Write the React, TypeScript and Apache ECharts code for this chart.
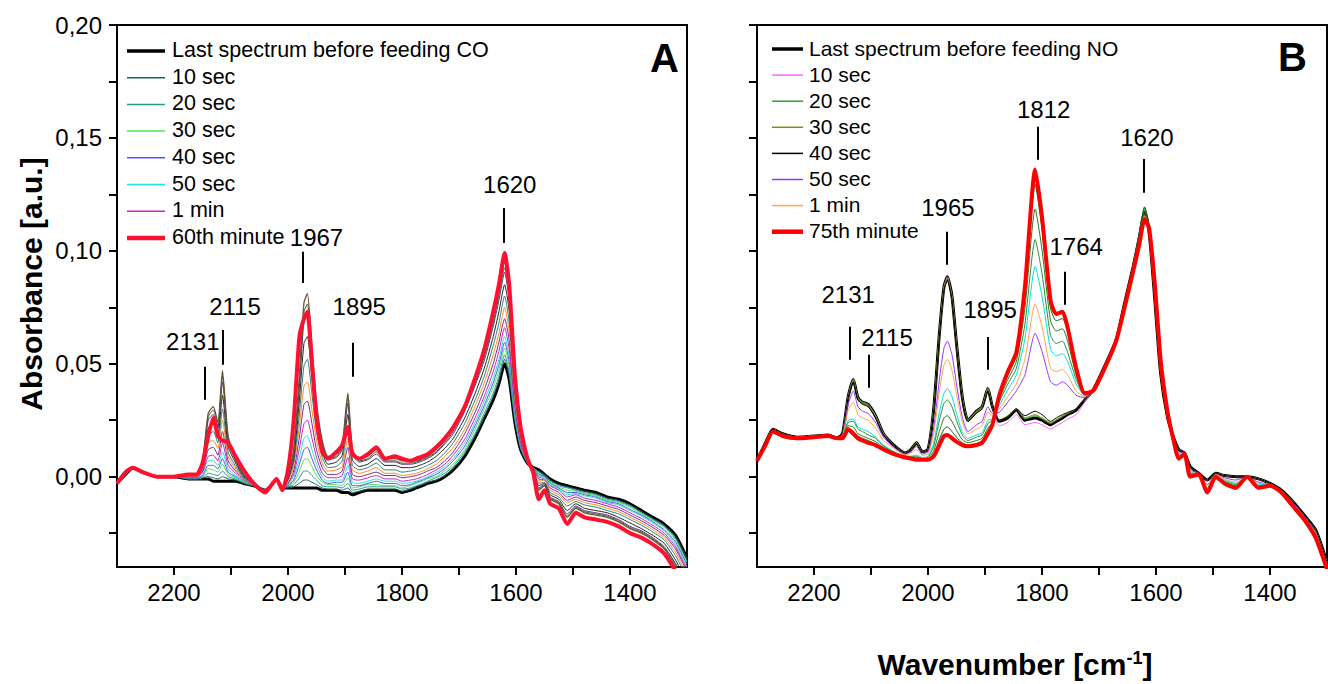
import React, { useEffect, useRef } from "react";
import * as echarts from "echarts";

// ---------- shared x grid (wavenumber, cm-1) ----------
const wavenumbers = [
  2300, 2285, 2272, 2255, 2230, 2200, 2175, 2160, 2150, 2140,
  2131, 2123, 2115, 2105, 2092, 2078, 2060, 2040, 2030, 2020,
  2010, 2000, 1990, 1980, 1972, 1966, 1958, 1950, 1940, 1930,
  1915, 1905, 1895, 1887, 1875, 1860, 1845, 1830, 1812, 1800,
  1785, 1775, 1764, 1755, 1740, 1725, 1710, 1690, 1670, 1655,
  1640, 1630, 1620, 1612, 1602, 1592, 1580, 1570, 1560, 1550,
  1540, 1525, 1510, 1495, 1480, 1460, 1440, 1420, 1400, 1380,
  1360, 1340, 1320, 1300,
];

// ---------- axis ticks ----------
const xTickValues = [1400, 1500, 1600, 1700, 1800, 1900, 2000, 2100, 2200];
const xLabelValues = [2200, 2000, 1800, 1600, 1400];
const yTickValues = [-0.025, 0, 0.025, 0.05, 0.075, 0.1, 0.125, 0.15, 0.175, 0.2];
const yLabelValues = [0, 0.05, 0.1, 0.15, 0.2];

// ---------- Panel A (CO feeding) ----------
const aLast = [
  -0.003, 0.001, 0.004, 0.002, 0, 0, -0.001, -0.001, -0.001, -0.001,
  -0.002, -0.002, -0.002, -0.002, -0.002, -0.003, -0.004, -0.006, -0.004, -0.001,
  -0.005, -0.005, -0.005, -0.005, -0.005, -0.005, -0.005, -0.005, -0.006, -0.006,
  -0.006, -0.007, -0.007, -0.008, -0.007, -0.006, -0.006, -0.006, -0.006, -0.007,
  -0.006, -0.005, -0.004, -0.003, -0.002, 0, 0.003, 0.009, 0.018, 0.026,
  0.034, 0.041, 0.05, 0.043, 0.024, 0.012, 0.006, 0.004, 0.003, 0.001,
  -0.001, -0.003, -0.004, -0.005, -0.006, -0.007, -0.009, -0.01, -0.012, -0.015,
  -0.018, -0.021, -0.026, -0.036,
];
const a10s = [
  -0.003, 0.001, 0.004, 0.002, 0, 0, -0.001, -0.001, -0.0005, 0,
  -0.0005, -0.001, 0, -0.001, -0.0015, -0.003, -0.004, -0.006, -0.004, -0.001,
  -0.005, -0.005, -0.0045, -0.003, -0.0015, -0.0015, -0.0025, -0.0035, -0.005, -0.0055,
  -0.0055, -0.006, -0.005, -0.007, -0.0065, -0.0055, -0.0055, -0.0055, -0.0055, -0.0065,
  -0.0055, -0.0045, -0.0035, -0.0025, -0.0015, 0.0005, 0.0035, 0.01, 0.019, 0.027,
  0.0355, 0.0425, 0.052, 0.0445, 0.025, 0.0125, 0.006, 0.004, 0.0025, 0.001,
  -0.0015, -0.0035, -0.0045, -0.0055, -0.0065, -0.0075, -0.0095, -0.0105, -0.0125, -0.0155,
  -0.0185, -0.0215, -0.0265, -0.0365,
];
const a20s = [
  -0.003, 0.001, 0.004, 0.002, 0, 0, -0.001, -0.001, -0.0005, 0.0015,
  0.001, 0.0005, 0.0025, 0, -0.001, -0.0025, -0.004, -0.006, -0.004, -0.001,
  -0.005, -0.0045, -0.0035, -0.0005, 0.0025, 0.0025, 0.0005, -0.0015, -0.004, -0.0045,
  -0.0045, -0.005, -0.003, -0.006, -0.0055, -0.0045, -0.0045, -0.0045, -0.0045, -0.0055,
  -0.005, -0.004, -0.003, -0.002, -0.0005, 0.0015, 0.0045, 0.011, 0.02, 0.0285,
  0.037, 0.0445, 0.054, 0.0465, 0.0255, 0.013, 0.006, 0.004, 0.002, 0.0005,
  -0.002, -0.004, -0.005, -0.006, -0.007, -0.008, -0.01, -0.011, -0.013, -0.016,
  -0.019, -0.022, -0.0275, -0.0375,
];
const a30s = [
  -0.003, 0.001, 0.004, 0.002, 0, 0, -0.0005, -0.0005, 0, 0.0035,
  0.003, 0.002, 0.0055, 0.001, -0.0005, -0.0025, -0.004, -0.006, -0.004, -0.001,
  -0.005, -0.004, -0.0025, 0.0025, 0.0075, 0.008, 0.0045, 0.0005, -0.0025, -0.0035,
  -0.0035, -0.004, -0.0005, -0.005, -0.0045, -0.0035, -0.0035, -0.004, -0.004, -0.005,
  -0.004, -0.003, -0.002, -0.001, 0, 0.0025, 0.0055, 0.012, 0.022, 0.0305,
  0.0395, 0.047, 0.057, 0.049, 0.027, 0.0135, 0.0065, 0.004, 0.0015, 0,
  -0.0025, -0.0045, -0.006, -0.0065, -0.0075, -0.0085, -0.0105, -0.0115, -0.0135, -0.0165,
  -0.0195, -0.0225, -0.028, -0.038,
];
const a40s = [
  -0.003, 0.001, 0.004, 0.002, 0, 0, -0.0005, -0.0005, 0.0005, 0.005,
  0.005, 0.0035, 0.008, 0.002, 0, -0.002, -0.004, -0.006, -0.004, -0.001,
  -0.005, -0.004, -0.0015, 0.0055, 0.012, 0.013, 0.008, 0.003, -0.0015, -0.003,
  -0.0025, -0.0025, 0.002, -0.004, -0.004, -0.003, -0.002, -0.003, -0.003, -0.004,
  -0.0035, -0.0025, -0.0015, -0.0005, 0.001, 0.0035, 0.007, 0.0135, 0.0235, 0.032,
  0.0415, 0.0495, 0.0595, 0.051, 0.028, 0.014, 0.0065, 0.004, 0.001, 0,
  -0.003, -0.005, -0.007, -0.007, -0.008, -0.009, -0.011, -0.012, -0.0145, -0.017,
  -0.02, -0.0235, -0.029, -0.039,
];
const a50s = [
  -0.003, 0.001, 0.004, 0.002, 0, 0, -0.0005, -0.0005, 0.001, 0.007,
  0.007, 0.005, 0.011, 0.0035, 0.0005, -0.002, -0.0035, -0.006, -0.004, -0.001,
  -0.005, -0.0035, -0.0005, 0.0085, 0.017, 0.018, 0.012, 0.0055, 0, -0.002,
  -0.0015, -0.0015, 0.005, -0.0025, -0.003, -0.002, -0.001, -0.002, -0.002, -0.003,
  -0.0025, -0.002, -0.001, 0, 0.002, 0.0045, 0.008, 0.015, 0.025, 0.034,
  0.0435, 0.052, 0.062, 0.0535, 0.029, 0.0145, 0.0065, 0.0035, 0.0005, -0.0005,
  -0.0035, -0.0055, -0.008, -0.0075, -0.0085, -0.0095, -0.0115, -0.0125, -0.015, -0.0175,
  -0.0205, -0.024, -0.03, -0.04,
];
const a1min = [
  -0.003, 0.001, 0.004, 0.002, 0, 0, -0.0005, -0.0005, 0.002, 0.009,
  0.0095, 0.007, 0.015, 0.005, 0.0015, -0.0015, -0.0035, -0.006, -0.004, -0.001,
  -0.005, -0.003, 0.001, 0.0125, 0.0235, 0.025, 0.017, 0.0085, 0.0015, -0.0005,
  -0.0005, 0.0005, 0.0085, -0.001, -0.0015, -0.0005, 0.0005, -0.001, -0.001, -0.002,
  -0.0015, -0.001, 0, 0.001, 0.003, 0.0055, 0.0095, 0.0165, 0.027, 0.036,
  0.0465, 0.0555, 0.066, 0.0565, 0.0305, 0.015, 0.0065, 0.0035, 0, -0.001,
  -0.004, -0.006, -0.009, -0.008, -0.0095, -0.0105, -0.012, -0.0135, -0.016, -0.0185,
  -0.0215, -0.025, -0.031, -0.041,
];
const aMin3 = [
  -0.003, 0.001, 0.004, 0.002, 0, 0, 0, 0, 0.0025, 0.012,
  0.013, 0.0095, 0.02, 0.007, 0.0025, -0.001, -0.0035, -0.006, -0.004, -0.001,
  -0.005, -0.003, 0.0025, 0.0175, 0.032, 0.0335, 0.0235, 0.012, 0.004, 0.001,
  0.001, 0.0025, 0.013, 0.001, 0, 0.001, 0.002, 0.0005, 0.0005, -0.0005,
  0, 0.0005, 0.0015, 0.0025, 0.004, 0.007, 0.011, 0.019, 0.0295, 0.039,
  0.05, 0.0595, 0.07, 0.0605, 0.0325, 0.016, 0.007, 0.0035, -0.001, -0.0015,
  -0.005, -0.007, -0.0105, -0.009, -0.0105, -0.0115, -0.013, -0.0145, -0.017, -0.0195,
  -0.0225, -0.026, -0.032, -0.042,
];
const aMin5 = [
  -0.003, 0.001, 0.004, 0.002, 0, 0, 0, 0, 0.0035, 0.015,
  0.016, 0.0125, 0.025, 0.009, 0.0035, -0.001, -0.0035, -0.006, -0.004, -0.001,
  -0.005, -0.002, 0.0045, 0.0225, 0.04, 0.042, 0.0295, 0.016, 0.006, 0.0025,
  0.003, 0.0045, 0.017, 0.003, 0.0015, 0.0025, 0.004, 0.0015, 0.0015, 0.0005,
  0.001, 0.0015, 0.0025, 0.0035, 0.0055, 0.009, 0.013, 0.021, 0.0325, 0.042,
  0.054, 0.0635, 0.075, 0.0645, 0.0345, 0.017, 0.007, 0.0035, -0.002, -0.0015,
  -0.006, -0.008, -0.0115, -0.01, -0.0115, -0.0125, -0.014, -0.0155, -0.018, -0.0205,
  -0.0235, -0.027, -0.0335, -0.0435,
];
const aMin10 = [
  -0.003, 0.001, 0.004, 0.002, 0, 0, 0.0005, 0.0005, 0.0045, 0.018,
  0.02, 0.015, 0.03, 0.011, 0.0045, -0.0005, -0.0035, -0.006, -0.004, -0.001,
  -0.005, -0.0015, 0.006, 0.028, 0.049, 0.052, 0.0365, 0.02, 0.0085, 0.004,
  0.0045, 0.007, 0.022, 0.005, 0.003, 0.004, 0.006, 0.003, 0.003, 0.002,
  0.0025, 0.003, 0.004, 0.005, 0.007, 0.0105, 0.015, 0.0235, 0.035, 0.045,
  0.058, 0.068, 0.08, 0.0685, 0.0365, 0.018, 0.0075, 0.0035, -0.003, -0.0025,
  -0.007, -0.009, -0.013, -0.011, -0.0125, -0.0135, -0.015, -0.0165, -0.019, -0.0215,
  -0.0245, -0.028, -0.035, -0.045,
];
const aMin20 = [
  -0.003, 0.001, 0.004, 0.002, 0, 0, 0.0005, 0.0005, 0.005, 0.0215,
  0.0235, 0.0185, 0.036, 0.0135, 0.006, 0, -0.003, -0.006, -0.004, -0.001,
  -0.005, -0.001, 0.008, 0.034, 0.059, 0.062, 0.044, 0.0245, 0.011, 0.0055,
  0.0065, 0.0095, 0.0275, 0.0075, 0.0045, 0.0055, 0.008, 0.005, 0.005, 0.004,
  0.004, 0.0045, 0.0055, 0.0065, 0.009, 0.0125, 0.017, 0.026, 0.038, 0.0485,
  0.062, 0.073, 0.085, 0.0735, 0.039, 0.019, 0.0075, 0.003, -0.004, -0.003,
  -0.008, -0.01, -0.015, -0.012, -0.014, -0.015, -0.016, -0.018, -0.0205, -0.023,
  -0.026, -0.0295, -0.037, -0.047,
];
const aMin30 = [
  -0.003, 0.001, 0.004, 0.002, 0, 0, 0.001, 0.001, 0.006, 0.025,
  0.0275, 0.0215, 0.042, 0.016, 0.007, 0.0005, -0.003, -0.006, -0.004, -0.001,
  -0.005, -0.0005, 0.0105, 0.04, 0.069, 0.0725, 0.0515, 0.029, 0.014, 0.0075,
  0.0085, 0.012, 0.0325, 0.01, 0.0065, 0.0075, 0.01, 0.0065, 0.0065, 0.0055,
  0.0055, 0.006, 0.007, 0.008, 0.0105, 0.0145, 0.019, 0.029, 0.0415, 0.052,
  0.0665, 0.078, 0.0905, 0.078, 0.041, 0.02, 0.008, 0.003, -0.005, -0.0035,
  -0.009, -0.011, -0.0165, -0.013, -0.015, -0.016, -0.017, -0.019, -0.022, -0.024,
  -0.027, -0.031, -0.0385, -0.0485,
];
const aMin40 = [
  -0.003, 0.001, 0.004, 0.002, 0, 0, 0.001, 0.001, 0.0065, 0.0265,
  0.0295, 0.0225, 0.0445, 0.017, 0.0075, 0.001, -0.003, -0.006, -0.004, -0.001,
  -0.005, 0, 0.011, 0.0425, 0.073, 0.0765, 0.055, 0.031, 0.015, 0.008,
  0.009, 0.013, 0.035, 0.011, 0.007, 0.008, 0.011, 0.007, 0.007, 0.006,
  0.006, 0.0065, 0.0075, 0.0085, 0.011, 0.015, 0.02, 0.03, 0.0425, 0.0535,
  0.068, 0.08, 0.0925, 0.08, 0.042, 0.0205, 0.008, 0.003, -0.0055, -0.004,
  -0.0095, -0.0115, -0.0175, -0.0135, -0.0155, -0.0165, -0.0175, -0.0195, -0.0225, -0.0245,
  -0.0275, -0.0315, -0.039, -0.049,
];
const aMin45 = [
  -0.003, 0.001, 0.004, 0.002, 0, 0, 0.001, 0.001, 0.007, 0.028,
  0.031, 0.024, 0.047, 0.018, 0.008, 0.001, -0.003, -0.006, -0.004, -0.001,
  -0.005, 0, 0.012, 0.045, 0.077, 0.081, 0.058, 0.033, 0.016, 0.009,
  0.01, 0.014, 0.037, 0.012, 0.008, 0.009, 0.012, 0.008, 0.008, 0.007,
  0.007, 0.007, 0.008, 0.009, 0.012, 0.016, 0.021, 0.031, 0.044, 0.055,
  0.07, 0.082, 0.095, 0.082, 0.043, 0.021, 0.008, 0.003, -0.006, -0.004,
  -0.01, -0.012, -0.018, -0.014, -0.016, -0.017, -0.018, -0.02, -0.023, -0.025,
  -0.028, -0.032, -0.04, -0.05,
];
const a60min = [
  -0.003, 0.002, 0.004, 0.002, 0, 0, 0.001, 0.001, 0.006, 0.018,
  0.026, 0.018, 0.016, 0.015, 0.009, 0.003, -0.003, -0.007, -0.004, -0.001,
  -0.006, 0.003, 0.025, 0.062, 0.07, 0.073, 0.05, 0.026, 0.011, 0.008,
  0.011, 0.014, 0.022, 0.01, 0.008, 0.01, 0.013, 0.008, 0.009, 0.008,
  0.007, 0.008, 0.009, 0.01, 0.013, 0.017, 0.022, 0.031, 0.045, 0.057,
  0.073, 0.085, 0.099, 0.085, 0.045, 0.022, 0.008, 0.002, -0.01, -0.006,
  -0.012, -0.014, -0.021, -0.016, -0.018, -0.019, -0.02, -0.022, -0.025, -0.027,
  -0.03, -0.034, -0.042, -0.052,
];

// ---------- Panel B (NO feeding) ----------
const bLast = [
  0.007, 0.015, 0.021, 0.019, 0.0175, 0.018, 0.0185, 0.017, 0.019, 0.0355,
  0.043, 0.035, 0.033, 0.032, 0.027, 0.019, 0.014, 0.0105, 0.012, 0.015,
  0.011, 0.012, 0.03, 0.0635, 0.084, 0.0885, 0.08, 0.059, 0.0355, 0.025,
  0.029, 0.031, 0.039, 0.031, 0.0245, 0.026, 0.0295, 0.025, 0.026, 0.025,
  0.023, 0.0245, 0.026, 0.0275, 0.0295, 0.034, 0.0385, 0.049, 0.0605, 0.077,
  0.093, 0.105, 0.117, 0.108, 0.078, 0.046, 0.0265, 0.018, 0.012, 0.0105,
  0.0045, 0.0015, -0.0015, 0.0015, 0.0005, 0, 0, -0.001, -0.003, -0.006,
  -0.011, -0.017, -0.0235, -0.038,
];
const b10s = [
  0.007, 0.015, 0.021, 0.019, 0.0175, 0.018, 0.0185, 0.017, 0.019, 0.0355,
  0.043, 0.035, 0.033, 0.032, 0.027, 0.019, 0.014, 0.0105, 0.012, 0.015,
  0.011, 0.012, 0.03, 0.0635, 0.084, 0.0885, 0.08, 0.059, 0.0355, 0.025,
  0.029, 0.031, 0.039, 0.031, 0.0225, 0.024, 0.0275, 0.023, 0.024, 0.023,
  0.021, 0.0225, 0.024, 0.0255, 0.0275, 0.033, 0.0385, 0.049, 0.0605, 0.077,
  0.093, 0.105, 0.117, 0.108, 0.078, 0.046, 0.0265, 0.018, 0.012, 0.0105,
  0.0045, 0.0015, -0.0015, 0.0015, 0.0005, 0, 0, -0.001, -0.003, -0.006,
  -0.011, -0.017, -0.0235, -0.038,
];
const b20s = [
  0.007, 0.015, 0.021, 0.019, 0.0175, 0.018, 0.0185, 0.017, 0.019, 0.0355,
  0.043, 0.035, 0.033, 0.032, 0.027, 0.019, 0.014, 0.0105, 0.012, 0.015,
  0.011, 0.012, 0.03, 0.063, 0.0835, 0.088, 0.0795, 0.0585, 0.0355, 0.025,
  0.029, 0.031, 0.039, 0.031, 0.025, 0.0265, 0.03, 0.0255, 0.027, 0.0255,
  0.0235, 0.025, 0.0265, 0.028, 0.03, 0.034, 0.0385, 0.049, 0.0605, 0.077,
  0.093, 0.105, 0.117, 0.108, 0.078, 0.046, 0.0265, 0.018, 0.012, 0.0105,
  0.0045, 0.0015, -0.0015, 0.0015, 0.0005, 0, 0, -0.001, -0.003, -0.006,
  -0.011, -0.017, -0.0235, -0.038,
];
const b30s = [
  0.007, 0.015, 0.021, 0.019, 0.0175, 0.018, 0.0185, 0.017, 0.019, 0.035,
  0.0425, 0.0345, 0.0325, 0.0315, 0.0265, 0.019, 0.014, 0.0105, 0.012, 0.015,
  0.011, 0.012, 0.0295, 0.0625, 0.083, 0.0875, 0.079, 0.058, 0.035, 0.025,
  0.0285, 0.0305, 0.0385, 0.031, 0.025, 0.027, 0.03, 0.026, 0.0275, 0.026,
  0.024, 0.025, 0.027, 0.028, 0.03, 0.034, 0.0385, 0.049, 0.0605, 0.077,
  0.093, 0.105, 0.117, 0.108, 0.078, 0.046, 0.0265, 0.018, 0.012, 0.0105,
  0.0045, 0.0015, -0.0015, 0.0015, 0.0005, 0, 0, -0.001, -0.003, -0.006,
  -0.011, -0.017, -0.0235, -0.038,
];
const b40s = [
  0.007, 0.015, 0.021, 0.019, 0.0175, 0.018, 0.0185, 0.017, 0.019, 0.035,
  0.042, 0.034, 0.032, 0.031, 0.026, 0.0185, 0.014, 0.0105, 0.012, 0.0145,
  0.011, 0.012, 0.029, 0.062, 0.0825, 0.087, 0.0785, 0.0575, 0.0345, 0.0245,
  0.028, 0.03, 0.038, 0.031, 0.025, 0.0265, 0.03, 0.027, 0.029, 0.0275,
  0.0245, 0.026, 0.0275, 0.0285, 0.03, 0.034, 0.0385, 0.049, 0.0605, 0.077,
  0.093, 0.105, 0.117, 0.108, 0.078, 0.046, 0.0265, 0.018, 0.012, 0.0105,
  0.0045, 0.0015, -0.0015, 0.0015, 0.0005, 0, 0, -0.001, -0.003, -0.006,
  -0.011, -0.017, -0.0235, -0.038,
];
const b50s = [
  0.007, 0.0145, 0.0205, 0.0185, 0.0175, 0.018, 0.0185, 0.017, 0.0185, 0.032,
  0.038, 0.031, 0.029, 0.028, 0.024, 0.0175, 0.013, 0.01, 0.011, 0.0135,
  0.01, 0.011, 0.0215, 0.043, 0.057, 0.06, 0.054, 0.041, 0.0265, 0.02,
  0.023, 0.0245, 0.031, 0.028, 0.0285, 0.033, 0.038, 0.045, 0.0635, 0.0555,
  0.042, 0.0405, 0.042, 0.0405, 0.036, 0.035, 0.0385, 0.0485, 0.0605, 0.0765,
  0.0925, 0.104, 0.116, 0.1085, 0.0805, 0.048, 0.0275, 0.0175, 0.0105, 0.0105,
  0.003, 0.0015, -0.0035, 0.001, -0.0005, -0.0015, 0, -0.0025, -0.0035, -0.0065,
  -0.0115, -0.0175, -0.0245, -0.039,
];
const b1min = [
  0.007, 0.0145, 0.0205, 0.0185, 0.0175, 0.018, 0.018, 0.017, 0.018, 0.0295,
  0.033, 0.0275, 0.026, 0.025, 0.0215, 0.016, 0.0125, 0.0095, 0.0105, 0.012,
  0.0095, 0.01, 0.019, 0.038, 0.0495, 0.052, 0.047, 0.0365, 0.0245, 0.019,
  0.021, 0.0225, 0.0285, 0.027, 0.03, 0.0355, 0.041, 0.052, 0.0765, 0.0665,
  0.048, 0.0465, 0.0475, 0.045, 0.038, 0.0355, 0.0385, 0.0485, 0.06, 0.076,
  0.092, 0.1035, 0.1155, 0.109, 0.081, 0.049, 0.0275, 0.0175, 0.01, 0.01,
  0.0025, 0.001, -0.004, 0.001, -0.001, -0.0025, 0, -0.003, -0.0035, -0.0065,
  -0.012, -0.018, -0.025, -0.0395,
];
const bMin2 = [
  0.007, 0.0145, 0.0205, 0.0185, 0.017, 0.0175, 0.018, 0.017, 0.0175, 0.025,
  0.0255, 0.022, 0.021, 0.02, 0.0175, 0.014, 0.011, 0.009, 0.009, 0.0095,
  0.0085, 0.009, 0.015, 0.0285, 0.037, 0.039, 0.0355, 0.028, 0.02, 0.017,
  0.0185, 0.0195, 0.025, 0.0255, 0.0315, 0.0385, 0.045, 0.061, 0.093, 0.08,
  0.0565, 0.0535, 0.0545, 0.051, 0.041, 0.036, 0.038, 0.0485, 0.06, 0.076,
  0.092, 0.103, 0.115, 0.109, 0.082, 0.05, 0.028, 0.0175, 0.0095, 0.01,
  0.002, 0.001, -0.005, 0.0005, -0.0015, -0.003, 0, -0.0035, -0.0035, -0.0065,
  -0.012, -0.018, -0.0255, -0.04,
];
const bMin5 = [
  0.007, 0.0145, 0.02, 0.018, 0.017, 0.0175, 0.018, 0.017, 0.0175, 0.024,
  0.0245, 0.021, 0.02, 0.0185, 0.017, 0.0135, 0.011, 0.009, 0.009, 0.009,
  0.008, 0.0085, 0.0135, 0.025, 0.0325, 0.034, 0.031, 0.025, 0.0185, 0.016,
  0.0175, 0.0185, 0.0235, 0.025, 0.033, 0.041, 0.048, 0.0675, 0.105, 0.09,
  0.0625, 0.059, 0.06, 0.055, 0.043, 0.036, 0.038, 0.048, 0.06, 0.0755,
  0.093, 0.106, 0.118, 0.11, 0.083, 0.05, 0.028, 0.017, 0.009, 0.01,
  0.0015, 0.001, -0.0055, 0.0005, -0.002, -0.0035, 0, -0.004, -0.0035, -0.0065,
  -0.0125, -0.0185, -0.026, -0.04,
];
const bMin20 = [
  0.007, 0.014, 0.02, 0.018, 0.017, 0.0175, 0.018, 0.017, 0.017, 0.0225,
  0.022, 0.019, 0.018, 0.017, 0.0155, 0.013, 0.0105, 0.0085, 0.0085, 0.0085,
  0.008, 0.008, 0.0115, 0.02, 0.026, 0.027, 0.0245, 0.0205, 0.0165, 0.015,
  0.016, 0.017, 0.0215, 0.024, 0.034, 0.043, 0.051, 0.0745, 0.1185, 0.1005,
  0.069, 0.0645, 0.0655, 0.06, 0.045, 0.0365, 0.038, 0.048, 0.06, 0.0755,
  0.0935, 0.1065, 0.119, 0.111, 0.084, 0.051, 0.0285, 0.017, 0.0085, 0.01,
  0.001, 0.001, -0.006, 0, -0.0025, -0.004, 0, -0.0045, -0.004, -0.007,
  -0.0125, -0.0185, -0.0265, -0.0405,
];
const bMin45 = [
  0.007, 0.014, 0.02, 0.018, 0.017, 0.0175, 0.018, 0.017, 0.017, 0.0215,
  0.02, 0.018, 0.017, 0.016, 0.0145, 0.0125, 0.01, 0.0085, 0.008, 0.008,
  0.0075, 0.0075, 0.01, 0.0165, 0.021, 0.022, 0.02, 0.0175, 0.015, 0.014,
  0.0145, 0.016, 0.02, 0.0235, 0.035, 0.045, 0.0535, 0.0805, 0.1295, 0.1095,
  0.0745, 0.069, 0.07, 0.064, 0.047, 0.037, 0.038, 0.048, 0.06, 0.0755,
  0.094, 0.107, 0.1195, 0.1115, 0.0845, 0.0515, 0.029, 0.017, 0.008, 0.01,
  0.0005, 0.001, -0.0065, 0, -0.003, -0.0045, 0, -0.005, -0.004, -0.007,
  -0.013, -0.019, -0.027, -0.041,
];
const b75min = [
  0.007, 0.014, 0.02, 0.018, 0.017, 0.0175, 0.018, 0.017, 0.017, 0.021,
  0.019, 0.017, 0.016, 0.015, 0.014, 0.012, 0.01, 0.0085, 0.008, 0.0075,
  0.0075, 0.0075, 0.009, 0.014, 0.018, 0.0185, 0.017, 0.0155, 0.014, 0.0135,
  0.014, 0.015, 0.019, 0.023, 0.036, 0.0465, 0.055, 0.084, 0.136, 0.115,
  0.078, 0.072, 0.073, 0.066, 0.048, 0.037, 0.038, 0.048, 0.06, 0.075,
  0.091, 0.102, 0.114, 0.11, 0.085, 0.052, 0.029, 0.017, 0.008, 0.01,
  0, 0.001, -0.007, 0, -0.003, -0.005, 0, -0.005, -0.004, -0.007,
  -0.013, -0.019, -0.027, -0.041,
];

// ---------- peak annotations ----------
const peakLabelsA = [
  { label: "2131", x: 2167, y: 0.0597 },
  { label: "2115", x: 2093, y: 0.0752 },
  { label: "1967", x: 1950, y: 0.1058 },
  { label: "1895", x: 1875, y: 0.0752 },
  { label: "1620", x: 1611, y: 0.1292 },
];
const peakMarksA = [
  { x: 2146, y1: 0.0341, y2: 0.0487 },
  { x: 2115, y1: 0.0496, y2: 0.065 },
  { x: 1974, y1: 0.0858, y2: 0.0996 },
  { x: 1887, y1: 0.0442, y2: 0.0593 },
  { x: 1621, y1: 0.1035, y2: 0.119 },
];
const peakLabelsB = [
  { label: "2131", x: 2140, y: 0.0805 },
  { label: "2115", x: 2072, y: 0.0615 },
  { label: "1965", x: 1965, y: 0.119 },
  { label: "1895", x: 1891, y: 0.0739 },
  { label: "1812", x: 1797, y: 0.1624 },
  { label: "1764", x: 1740, y: 0.1018 },
  { label: "1620", x: 1616, y: 0.1504 },
];
const peakMarksB = [
  { x: 2137, y1: 0.0518, y2: 0.0664 },
  { x: 2104, y1: 0.0394, y2: 0.054 },
  { x: 1967, y1: 0.0938, y2: 0.1084 },
  { x: 1895, y1: 0.0473, y2: 0.0619 },
  { x: 1807, y1: 0.1403, y2: 0.1549 },
  { x: 1760, y1: 0.0761, y2: 0.0907 },
  { x: 1621, y1: 0.1257, y2: 0.1407 },
];

// ---------- series tables (data + style) ----------
type Spec = { name: string; values: number[]; color: string; width: number; legend: boolean };

const specsA: Spec[] = [
  { name: "Last spectrum before feeding CO", values: aLast, color: "#000000", width: 3, legend: true },
  { name: "10 sec", values: a10s, color: "#1d6262", width: 1, legend: true },
  { name: "20 sec", values: a20s, color: "#2e9494", width: 1, legend: true },
  { name: "30 sec", values: a30s, color: "#4ee84e", width: 1, legend: true },
  { name: "40 sec", values: a40s, color: "#5454f0", width: 1, legend: true },
  { name: "50 sec", values: a50s, color: "#22e2e2", width: 1, legend: true },
  { name: "1 min", values: a1min, color: "#cc22cc", width: 1, legend: true },
  { name: "3 min", values: aMin3, color: "#7a2a8a", width: 1, legend: false },
  { name: "5 min", values: aMin5, color: "#ff8a1c", width: 1, legend: false },
  { name: "10 min", values: aMin10, color: "#2f7f7f", width: 1, legend: false },
  { name: "20 min", values: aMin20, color: "#222222", width: 1, legend: false },
  { name: "30 min", values: aMin30, color: "#5a2d82", width: 1, legend: false },
  { name: "40 min", values: aMin40, color: "#3d5a2a", width: 1, legend: false },
  { name: "45 min", values: aMin45, color: "#6a5638", width: 1.3, legend: false },
  { name: "60th minute", values: a60min, color: "#ff1030", width: 4, legend: true },
];

const specsB: Spec[] = [
  { name: "Last spectrum before feeding NO", values: bLast, color: "#000000", width: 3, legend: true },
  { name: "10 sec", values: b10s, color: "#ff66ff", width: 1, legend: true },
  { name: "20 sec", values: b20s, color: "#2ca02c", width: 1, legend: true },
  { name: "30 sec", values: b30s, color: "#8a8a00", width: 1, legend: true },
  { name: "40 sec", values: b40s, color: "#000000", width: 1, legend: true },
  { name: "50 sec", values: b50s, color: "#9933ff", width: 1, legend: true },
  { name: "1 min", values: b1min, color: "#ffa64d", width: 1, legend: true },
  { name: "2 min", values: bMin2, color: "#00e0e0", width: 1, legend: false },
  { name: "5 min", values: bMin5, color: "#2e8b2e", width: 1, legend: false },
  { name: "20 min", values: bMin20, color: "#1f7a1f", width: 1, legend: false },
  { name: "45 min", values: bMin45, color: "#0e5e0e", width: 1, legend: false },
  { name: "75th minute", values: b75min, color: "#ff0000", width: 4, legend: true },
];

const FONT = "'Liberation Sans', Arial, Helvetica, sans-serif";

const gridRects = [
  { left: 117, top: 25, width: 570, height: 542 },
  { left: 757, top: 25, width: 570, height: 542 },
];

function buildSeries(specs: Spec[], gi: number, labels: typeof peakLabelsA, marks: typeof peakMarksA) {
  return specs.map((s, k) => {
    const last = k === specs.length - 1;
    const ser: any = {
      type: "line",
      id: `p${gi}-${k}`,
      name: `p${gi}-${s.name}`,
      xAxisIndex: gi,
      yAxisIndex: gi,
      data: wavenumbers.map((w, i) => [w, s.values[i]]),
      symbol: "none",
      smooth: 0.2,
      clip: true,
      silent: true,
      emphasis: { disabled: true },
      lineStyle: { color: s.color, width: s.width },
      itemStyle: { color: s.color },
    };
    if (last) {
      ser.markPoint = {
        silent: true,
        symbol: "circle",
        symbolSize: 1,
        itemStyle: { color: "rgba(0,0,0,0)" },
        label: { show: true, position: "inside", formatter: "{b}", color: "#000", fontSize: 24, fontFamily: FONT },
        data: labels.map((p) => ({ name: p.label, coord: [p.x, p.y] })),
      };
      ser.markLine = {
        silent: true,
        symbol: ["none", "none"],
        label: { show: false },
        emphasis: { disabled: true },
        lineStyle: { color: "#000", width: 2, type: "solid" },
        data: marks.map((m) => [{ coord: [m.x, m.y1] }, { coord: [m.x, m.y2] }]),
      };
    }
    return ser;
  });
}

function legendGraphics(
  specs: Spec[],
  x1: number,
  x2: number,
  tx: number,
  y0: number,
  pitch: number,
  fontSize: number
) {
  const out: any[] = [];
  specs
    .filter((s) => s.legend)
    .forEach((s, i) => {
      const y = y0 + i * pitch;
      out.push({
        type: "line",
        silent: true,
        shape: { x1, y1: y, x2, y2: y },
        style: { stroke: s.color, lineWidth: s.width >= 3 ? s.width + 0.5 : 1.5 },
      });
      out.push({
        type: "text",
        silent: true,
        x: tx,
        y: y - 1,
        style: { text: s.name, fill: "#000", fontSize, fontFamily: FONT, align: "left", verticalAlign: "middle" },
      });
    });
  return out;
}

export default function App() {
  const ref = useRef<HTMLDivElement>(null);

  useEffect(() => {
    if (!ref.current) return;
    const chart = echarts.init(ref.current, null, { renderer: "svg" });

    const axisCommon = {
      axisLine: { show: true, onZero: false, lineStyle: { color: "#000", width: 2 } },
      splitLine: { show: false },
    };

    const xAxes = [0, 1].map((gi) => ({
      type: "value",
      gridIndex: gi,
      min: 1300,
      max: 2300,
      inverse: true,
      ...axisCommon,
      axisTick: { show: true, inside: false, length: 8, lineStyle: { color: "#000", width: 2 }, customValues: xTickValues },
      axisLabel: {
        show: true,
        customValues: xLabelValues,
        margin: 13,
        color: "#000",
        fontSize: 24,
        fontFamily: FONT,
        formatter: (v: number) => String(v),
      },
    }));

    const yAxes = [0, 1].map((gi) => ({
      type: "value",
      gridIndex: gi,
      min: -0.04,
      max: 0.2,
      ...axisCommon,
      axisTick: { show: true, inside: false, length: 8, lineStyle: { color: "#000", width: 2 }, customValues: yTickValues },
      axisLabel: {
        show: gi === 0,
        customValues: yLabelValues,
        margin: 15,
        color: "#000",
        fontSize: 24,
        fontFamily: FONT,
        formatter: (v: number) => v.toFixed(2).replace(".", ","),
      },
    }));

    const graphics: any[] = [
      ...legendGraphics(specsA, 127, 165, 172, 51, 26.7, 21.5),
      ...legendGraphics(specsB, 772, 803, 809, 49, 26.1, 21),
      {
        type: "text",
        silent: true,
        x: 679,
        y: 58,
        style: { text: "A", fill: "#000", fontSize: 40, fontWeight: "bold", fontFamily: FONT, align: "right", verticalAlign: "middle" },
      },
      {
        type: "text",
        silent: true,
        x: 1307,
        y: 57,
        style: { text: "B", fill: "#000", fontSize: 40, fontWeight: "bold", fontFamily: FONT, align: "right", verticalAlign: "middle" },
      },
      {
        type: "text",
        silent: true,
        x: 31,
        y: 284,
        rotation: Math.PI / 2,
        style: { text: "Absorbance [a.u.]", fill: "#000", fontSize: 30, fontWeight: "bold", fontFamily: FONT, align: "center", verticalAlign: "middle" },
      },
      {
        type: "text",
        silent: true,
        x: 1015,
        y: 664,
        style: {
          text: "Wavenumber [cm{sup|-1}]",
          fill: "#000",
          fontSize: 30,
          fontWeight: "bold",
          fontFamily: FONT,
          align: "center",
          verticalAlign: "middle",
          rich: {
            sup: { fontSize: 18, fontWeight: "bold", fontFamily: FONT, fill: "#000", verticalAlign: "top", lineHeight: 18 },
          },
        },
      },
    ];

    chart.setOption({
      animation: false,
      backgroundColor: "#ffffff",
      grid: gridRects.map((g) => ({
        ...g,
        show: true,
        borderColor: "#000",
        borderWidth: 2,
        backgroundColor: "transparent",
        containLabel: false,
        outerBoundsMode: "none",
      })),
      xAxis: xAxes,
      yAxis: yAxes,
      series: [
        ...buildSeries(specsA, 0, peakLabelsA, peakMarksA),
        ...buildSeries(specsB, 1, peakLabelsB, peakMarksB),
      ],
      graphic: graphics,
    });

    return () => chart.dispose();
  }, []);

  return (
    <div
      ref={ref}
      style={{ position: "fixed", left: 0, top: 0, width: 1328, height: 684, background: "#fff" }}
    />
  );
}
